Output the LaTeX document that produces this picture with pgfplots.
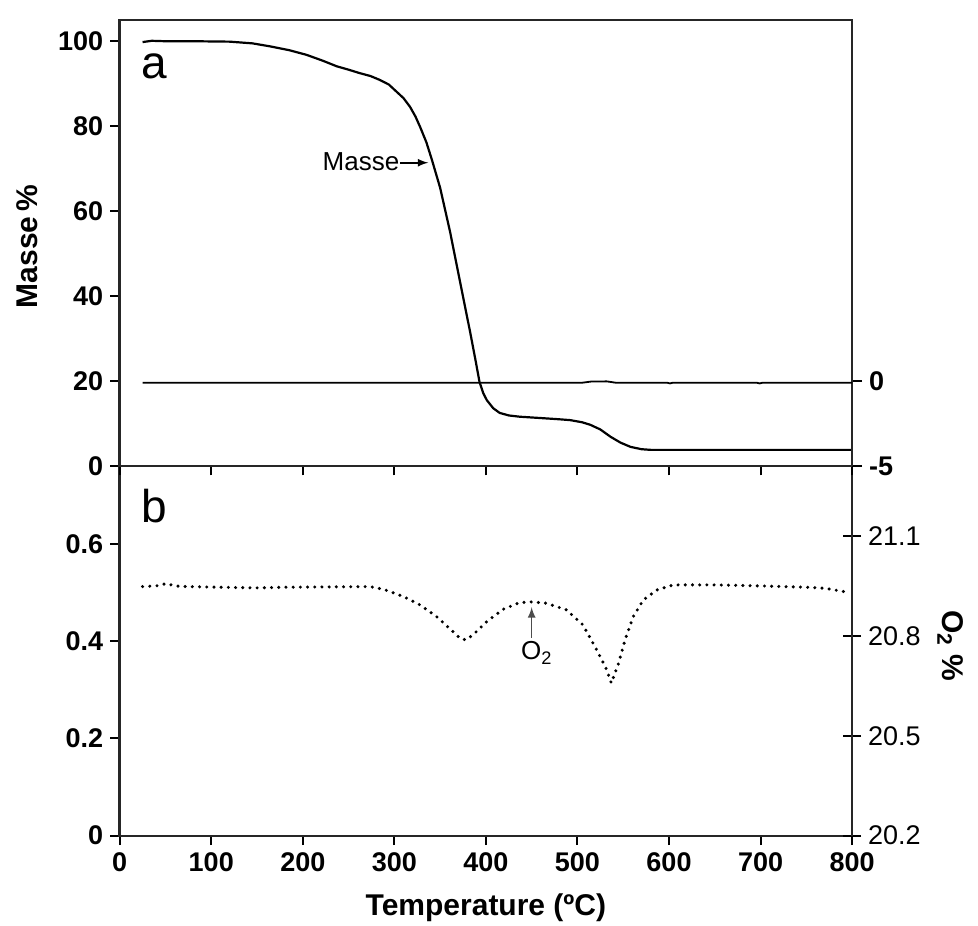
\documentclass[border=0pt]{standalone}
\usepackage{fontspec}
\setmainfont{Liberation Sans}
\usepackage{pgfplots}
\pgfplotsset{compat=1.18}
\pgfplotstableread{
T m
25 99.8
35 100.1
50 100.0
80 100.0
120 99.9
145 99.5
164 98.8
185 97.9
204 96.8
222 95.4
237 94.1
250 93.3
262 92.5
274 91.8
284 90.9
294 89.8
302 88.2
310 86.6
317 84.6
323 82.3
328 79.9
335 76.2
341 72.1
350 65.5
361 55.0
372 43.1
383 31.3
389 24.5
393 19.8
397 17.2
401 15.5
408 13.6
415 12.5
425 11.9
437 11.6
459 11.3
480 11.0
492 10.8
505 10.3
514 9.7
525 8.6
536 6.9
547 5.5
558 4.5
570 3.95
580 3.8
650 3.8
800 3.8
}\masse
\pgfplotstableread{
T d
25 -0.1
505 -0.1
515 -0.03
532 -0.02
542 -0.1
598 -0.1
601 -0.14
604 -0.1
696 -0.1
699 -0.14
702 -0.1
800 -0.1
}\dtg
\pgfplotstableread{
T o
25 20.948
40 20.950
51 20.957
60 20.950
73 20.948
110 20.946
150 20.944
182 20.946
230 20.947
273 20.948
288 20.940
310 20.918
328 20.893
346 20.858
364 20.813
372 20.792
378 20.788
386 20.803
401 20.843
419 20.880
437 20.900
450 20.902
466 20.898
488 20.878
506 20.833
521 20.758
532 20.698
537 20.658
545 20.718
552 20.788
561 20.858
572 20.908
587 20.938
605 20.953
650 20.953
700 20.950
750 20.946
770 20.943
797 20.930
}\oxy
\begin{document}
\begin{tikzpicture}[x=1pt,y=1pt]
\path[use as bounding box] (-59.85pt,-44.65pt) rectangle (429.15pt,417.85pt);
\pgfplotsset{
  common/.style={
    scale only axis, width=366.2pt,
    xmin=0, xmax=800,
    axis line style={line width=1.2pt, black!85},
    every tick/.style={line width=1pt, black},
    /pgf/number format/assume math mode=true,
  },
}
% ---------- bottom panel, left axis ----------
\begin{axis}[common,
  at={(0pt,0pt)}, anchor=south west, height=184.85pt,
  ymin=0, ymax=0.76,
  xtick={0,100,...,800}, ytick={0,0.2,0.4,0.6},
  xtick pos=bottom, ytick pos=left,
  tick align=outside, major tick length=4.75pt,
  tick label style={font=\fontsize{13.5}{15}\selectfont\bfseries},
  xlabel={Temperature (ºC)},
  xlabel style={font=\fontsize{15}{17}\selectfont\bfseries, at={(0.5,-0.195)}, anchor=center},
]
\node[font=\fontsize{23}{26}\selectfont] at (axis cs:37.5,0.678) {b};
\end{axis}
% ---------- bottom panel, right axis ----------
\begin{axis}[common,
  at={(0pt,0pt)}, anchor=south west, height=184.85pt,
  ymin=20.2, ymax=21.31,
  axis x line=none, axis y line*=right,
  ytick={20.2,20.5,20.8,21.1},
  tick align=center, major tick length=9pt,
  yticklabel style={font=\fontsize{13.5}{15}\selectfont, /pgf/number format/.cd, fixed, fixed zerofill, precision=1},
  ylabel={O\textsubscript{2} \%},
  ylabel style={font=\fontsize{15}{17}\selectfont\bfseries, at={(1.134,0.513)}, anchor=center, rotate=180},
]
\addplot[black, line width=1.7pt, line cap=round, dash pattern=on 0pt off 3.6pt] table[x=T, y=o] {\oxy};
\node[font=\fontsize{13}{15}\selectfont] at (axis cs:455.5,20.749) {O\textsubscript{2}};
\draw[-latex, line width=0.8pt, black!70] (axis cs:450,20.794) -- (axis cs:450,20.886);
\end{axis}
% ---------- top panel, left axis ----------
\begin{axis}[common,
  at={(0pt,184.85pt)}, anchor=south west, height=223pt,
  ymin=0, ymax=105,
  xtick={0,100,...,800}, xticklabels={},
  ytick={0,20,...,100},
  xtick pos=bottom, ytick pos=left,
  tick align=outside, major tick length=4.75pt,
  tick label style={font=\fontsize{13.5}{15}\selectfont\bfseries},
  ylabel={Masse\,\%},
  ylabel style={font=\fontsize{15}{17}\selectfont\bfseries, at={(-0.1266,0.492)}, anchor=center},
]
\addplot[black, line width=1.1pt] table[x=T, y=m] {\masse};
\node[font=\fontsize{23}{26}\selectfont] at (axis cs:37.5,94) {a};
\node[font=\fontsize{13}{15}\selectfont] at (axis cs:263.6,71.7) {Masse};
\draw[-latex, line width=0.8pt] (axis cs:306,71.4) -- (axis cs:337,71.4);
\end{axis}
% ---------- top panel, right axis ----------
\begin{axis}[common,
  at={(0pt,184.85pt)}, anchor=south west, height=223pt,
  ymin=-5, ymax=21.25,
  axis x line=none, axis y line*=right,
  ytick={-5,0},
  tick align=outside, major tick length=5pt,
  yticklabel style={font=\fontsize{13.5}{15}\selectfont\bfseries},
]
\addplot[black, line width=0.9pt] table[x=T, y=d] {\dtg};
\end{axis}
\end{tikzpicture}
\end{document}
